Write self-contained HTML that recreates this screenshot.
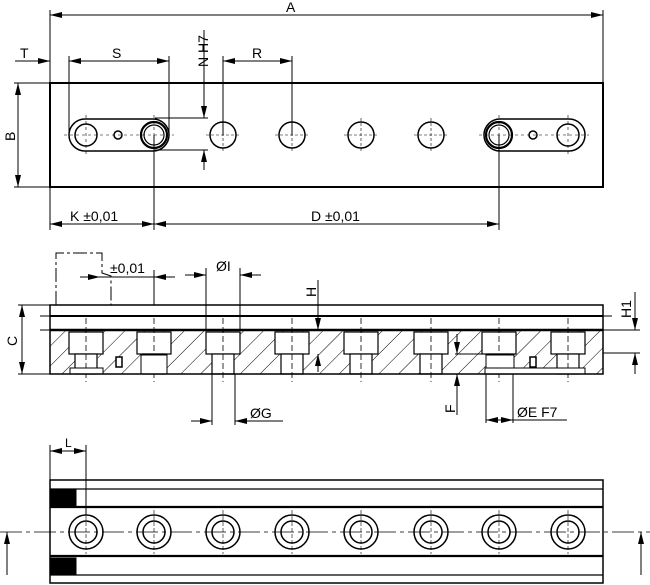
<!DOCTYPE html>
<html><head><meta charset="utf-8"><style>
html,body{margin:0;padding:0;background:#fff;}
svg{display:block;}
text{font-family:"Liberation Sans","DejaVu Sans",sans-serif;font-size:14px;fill:#000;}
</style></head><body>
<svg width="650" height="585" viewBox="0 0 650 585" xmlns="http://www.w3.org/2000/svg">
<defs>
<marker id="a" viewBox="0 0 12 6" refX="12" refY="3" markerWidth="12" markerHeight="6" orient="auto-start-reverse" markerUnits="userSpaceOnUse"><path d="M0,0 L12,3 L0,6z" fill="#000"/></marker>
<pattern id="h" width="14" height="14" patternUnits="userSpaceOnUse" patternTransform="rotate(45)"><line x1="0" y1="0" x2="0" y2="14" stroke="#000" stroke-width="1"/></pattern>
<g id="hole"><circle r="13" fill="none" stroke="#000" stroke-width="1.5"/><path d="M-17,0h34M0,-17v34" stroke="#000" stroke-width="0.6" stroke-dasharray="3,2"/></g>
<g id="pk"><rect x="-17" y="332" width="34" height="22" fill="#fff" stroke="#000" stroke-width="1.2"/><rect x="-11" y="354" width="22" height="20" fill="#fff" stroke="#000" stroke-width="1.2"/><line x1="0" y1="318" x2="0" y2="382" stroke="#000" stroke-width="0.8" stroke-dasharray="6,3"/></g>
<g id="bh"><circle r="17" fill="none" stroke="#000" stroke-width="1.5"/><circle r="11" fill="none" stroke="#000" stroke-width="1.5"/><path d="M0,-22v44" stroke="#000" stroke-width="0.6" stroke-dasharray="4,2"/></g>
</defs>
<g stroke="#000" fill="none" stroke-width="1">
<!-- TOP VIEW -->
<rect x="50" y="83" width="553" height="104" stroke-width="2"/>
<line x1="50" y1="10" x2="50" y2="83"/><line x1="603" y1="10" x2="603" y2="83"/>
<line x1="50" y1="15" x2="603" y2="15" marker-start="url(#a)" marker-end="url(#a)"/>
<line x1="15" y1="61" x2="50" y2="61" marker-end="url(#a)"/>
<line x1="69" y1="61" x2="169" y2="61" marker-start="url(#a)" marker-end="url(#a)"/>
<line x1="69" y1="56" x2="69" y2="135"/><line x1="169" y1="56" x2="169" y2="135"/>
<line x1="223" y1="61" x2="292" y2="61" marker-start="url(#a)" marker-end="url(#a)"/>
<line x1="223" y1="56" x2="223" y2="135"/><line x1="292" y1="56" x2="292" y2="135"/>
<line x1="204" y1="30" x2="204" y2="118" marker-end="url(#a)"/>
<line x1="204" y1="170" x2="204" y2="150" marker-end="url(#a)"/>
<line x1="155" y1="118" x2="208" y2="118"/><line x1="155" y1="150" x2="208" y2="150"/>
<line x1="18" y1="83" x2="18" y2="187" marker-start="url(#a)" marker-end="url(#a)"/>
<line x1="14" y1="83" x2="50" y2="83"/><line x1="14" y1="187" x2="50" y2="187"/>
<rect x="69" y="119" width="100" height="32" rx="16" stroke-width="1.5"/>
<rect x="484" y="119" width="101" height="32" rx="16" stroke-width="1.5"/>
<circle cx="86" cy="135" r="11" stroke-width="1.5"/><circle cx="118" cy="135" r="4" stroke-width="1.5"/>
<circle cx="154" cy="135" r="13" stroke-width="2.2"/><circle cx="154" cy="135" r="10" stroke-width="1.2"/>
<circle cx="499" cy="135" r="13" stroke-width="2.2"/><circle cx="499" cy="135" r="10" stroke-width="1.2"/>
<circle cx="533" cy="135" r="4" stroke-width="1.5"/><circle cx="568" cy="135" r="11" stroke-width="1.5"/>
<path d="M64,135h110M479,135h110M86,115v40M154,115v40M499,115v40M568,115v40" stroke-width="0.6" stroke-dasharray="3,3"/>
<use href="#hole" x="223" y="135"/><use href="#hole" x="292" y="135"/><use href="#hole" x="361" y="135"/><use href="#hole" x="431" y="135"/>
<line x1="50" y1="187" x2="50" y2="230"/><line x1="154" y1="135" x2="154" y2="230"/><line x1="499" y1="135" x2="499" y2="230"/>
<line x1="50" y1="224" x2="154" y2="224" marker-start="url(#a)" marker-end="url(#a)"/>
<line x1="154" y1="224" x2="499" y2="224" marker-start="url(#a)" marker-end="url(#a)"/>
<!-- SECTION VIEW -->
<rect x="50" y="330" width="553" height="44" fill="url(#h)" stroke="none"/>
<use href="#pk" x="86"/><use href="#pk" x="154"/><use href="#pk" x="223"/><use href="#pk" x="292"/><use href="#pk" x="361"/><use href="#pk" x="431"/><use href="#pk" x="499"/><use href="#pk" x="568"/>
<rect x="70" y="368" width="33" height="6" fill="#fff" stroke-width="1"/>
<rect x="141" y="355" width="26" height="19" fill="#fff"/>
<rect x="486" y="355" width="28" height="19" fill="#fff"/>
<rect x="485" y="368" width="100" height="6" fill="#fff"/>
<rect x="116" y="357" width="6" height="10" fill="#fff" stroke-width="1.5"/>
<rect x="530" y="357" width="6" height="10" fill="#fff" stroke-width="1.5"/>
<rect x="50" y="305" width="553" height="69" stroke-width="1.5"/>
<line x1="50" y1="316" x2="603" y2="316" stroke-width="2"/>
<line x1="50" y1="330" x2="603" y2="330" stroke-width="2.5"/>
<line x1="18" y1="305" x2="50" y2="305"/><line x1="18" y1="374" x2="50" y2="374"/>
<line x1="40" y1="316" x2="50" y2="316"/><line x1="40" y1="330" x2="50" y2="330"/>
<line x1="22" y1="305" x2="22" y2="374" marker-start="url(#a)" marker-end="url(#a)"/>
<path d="M56,305V253h46v20l9,3v29" stroke-width="1" stroke-dasharray="14,3,3,3"/>
<line x1="80" y1="277" x2="100" y2="277" marker-end="url(#a)"/>
<line x1="175" y1="277" x2="154" y2="277" marker-end="url(#a)"/>
<line x1="100" y1="277" x2="154" y2="277"/><line x1="154" y1="270" x2="154" y2="305"/>
<line x1="185" y1="275" x2="206" y2="275" marker-end="url(#a)"/>
<line x1="261" y1="275" x2="240" y2="275" marker-end="url(#a)"/>
<line x1="206" y1="268" x2="206" y2="330"/><line x1="240" y1="268" x2="240" y2="330"/>
<line x1="212" y1="374" x2="212" y2="425"/><line x1="235" y1="374" x2="235" y2="425"/>
<line x1="191" y1="421" x2="212" y2="421" marker-end="url(#a)"/>
<line x1="256" y1="421" x2="235" y2="421" marker-end="url(#a)"/>
<line x1="235" y1="421" x2="283" y2="421"/>
<line x1="318" y1="280" x2="318" y2="330" marker-end="url(#a)"/>
<line x1="318" y1="372" x2="318" y2="354" marker-end="url(#a)"/>
<line x1="457" y1="334" x2="457" y2="354" marker-end="url(#a)"/>
<line x1="457" y1="415" x2="457" y2="374" marker-end="url(#a)"/>
<line x1="455" y1="354" x2="486" y2="354"/>
<line x1="486" y1="374" x2="486" y2="423"/><line x1="513" y1="374" x2="513" y2="423"/>
<line x1="486" y1="420" x2="513" y2="420" marker-start="url(#a)" marker-end="url(#a)"/>
<line x1="513" y1="420" x2="567" y2="420"/>
<line x1="603" y1="316" x2="612" y2="316"/><line x1="603" y1="330" x2="640" y2="330"/><line x1="603" y1="353" x2="640" y2="353"/>
<line x1="635" y1="292" x2="635" y2="330" marker-end="url(#a)"/>
<line x1="635" y1="374" x2="635" y2="353" marker-end="url(#a)"/>
<!-- BOTTOM VIEW -->
<rect x="50" y="480" width="553" height="103" stroke-width="1.5"/>
<line x1="50" y1="489" x2="603" y2="489" stroke-width="1.2"/>
<line x1="50" y1="507" x2="603" y2="507" stroke-width="2.2"/>
<line x1="50" y1="556" x2="603" y2="556" stroke-width="2.2"/>
<line x1="50" y1="575" x2="603" y2="575" stroke-width="1.2"/>
<rect x="50" y="489" width="26" height="18" fill="#000"/>
<rect x="50" y="558" width="26" height="17" fill="#000"/>
<line x1="0" y1="532" x2="650" y2="532" stroke-width="0.8" stroke-dasharray="22,4,4,4"/>
<use href="#bh" x="86" y="532"/><use href="#bh" x="154" y="532"/><use href="#bh" x="223" y="532"/><use href="#bh" x="292" y="532"/><use href="#bh" x="361" y="532"/><use href="#bh" x="431" y="532"/><use href="#bh" x="499" y="532"/><use href="#bh" x="568" y="532"/>
<line x1="50" y1="445" x2="50" y2="480"/><line x1="86" y1="445" x2="86" y2="515"/>
<line x1="50" y1="451" x2="86" y2="451" marker-start="url(#a)" marker-end="url(#a)"/>
<line x1="7" y1="575" x2="7" y2="532" marker-end="url(#a)"/>
<line x1="641" y1="575" x2="641" y2="532" marker-end="url(#a)"/>
</g>
<g>
<text x="286" y="12">A</text>
<text x="20" y="58">T</text>
<text x="112" y="58">S</text>
<text x="252" y="58">R</text>
<text transform="translate(208,67) rotate(-90)">N H7</text>
<text transform="translate(15,141) rotate(-90)">B</text>
<text x="70" y="221">K ±0,01</text>
<text x="311" y="221">D ±0,01</text>
<text x="110" y="273">±0,01</text>
<text x="216" y="271">ØI</text>
<text x="250" y="418">ØG</text>
<text transform="translate(316,297) rotate(-90)">H</text>
<text transform="translate(17,346) rotate(-90)">C</text>
<text transform="translate(455,413) rotate(-90)">F</text>
<text x="517" y="417">ØE F7</text>
<text transform="translate(631,318) rotate(-90)">H1</text>
<text x="65" y="447" style="font-size:12px">L</text>
</g>
</svg>
</body></html>
